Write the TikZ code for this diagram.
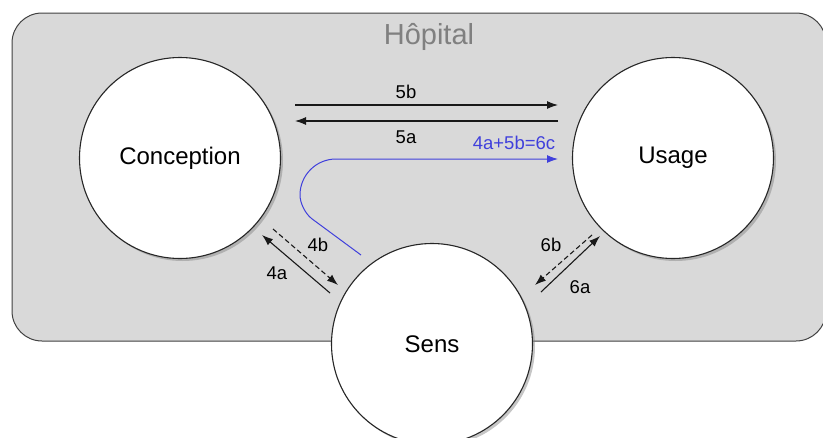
\documentclass[tikz,border=0pt]{standalone}
\usepackage{fontspec}
\setmainfont{Liberation Sans}
\usepackage{xcolor}
\usetikzlibrary{arrows.meta,positioning,calc,shadows}

\definecolor{boxgray}{RGB}{217,217,217}
\definecolor{flowblue}{RGB}{64,64,220}

\begin{document}
\begin{tikzpicture}[x=1pt,y=-1pt,>={Latex[length=11pt,width=8pt]},
   bub/.style={circle,draw=black!85,line width=1.1pt,fill=white,minimum size=201pt,inner sep=0pt,
     font=\fontsize{24}{26}\selectfont,
     drop shadow={shadow xshift=2.5pt,shadow yshift=-2.5pt,opacity=.45}},
   lbl/.style={font=\fontsize{18.5}{20}\selectfont},
   arr/.style={->,line width=1.1pt,black!90},
   dsh/.style={dash pattern=on 5pt off 3pt}]
  \useasboundingbox (0,0) rectangle (823,437);
  % hospital frame
  \draw[fill=boxgray,draw=black!75,line width=1pt,rounded corners=30pt] (12,13) rectangle (826,341);
  \node[font=\fontsize{29}{31}\selectfont,text=black!50] (hop) at (429,37) {Hôpital};
  % the three poles
  \node[bub] (conc) at (180,158) {Conception};
  \node[bub] (usage) at (673,158) {Usage};
  \node[bub] (sens) at (432,344) {Sens};
  % end points of the arrows
  \coordinate (c5b) at (295,105); \coordinate (u5b) at (558,105);
  \coordinate (c5a) at (295,121); \coordinate (u5a) at (558,121);
  \coordinate (s6c) at (361,255); \coordinate (u6c) at (558,159);
  \coordinate (c4a) at (262,235); \coordinate (s4a) at (330,293);
  \coordinate (c4b) at (273,229); \coordinate (s4b) at (338,285);
  \coordinate (s6a) at (541,292); \coordinate (u6a) at (600,236);
  \coordinate (u6b) at (592,235); \coordinate (s6b) at (535,285);
  % conception <-> usage
  \draw[arr] (c5b) -- (u5b);
  \node[lbl] (l5b) at (406,92) {5b};
  \draw[arr] (u5a) -- (c5a);
  \node[lbl] (l5a) at (406,137) {5a};
  % sens -> usage
  \draw[->,flowblue,line width=1pt,rounded corners=15pt] (s6c) -- (300,210)
     [rounded corners=36pt] -- (300,159) -- (u6c);
  \node[lbl,text=flowblue] (l6c) at (514,143) {4a+5b=6c};
  % conception <-> sens
  \draw[arr] (s4a) -- (c4a);
  \draw[arr,dsh] (c4b) -- (s4b);
  \node[lbl] (l4b) at (318,245) {4b};
  \node[lbl] (l4a) at (277,273) {4a};
  % sens <-> usage
  \draw[arr] (s6a) -- (u6a);
  \draw[arr,dsh] (u6b) -- (s6b);
  \node[lbl] (l6b) at (551,245) {6b};
  \node[lbl] (l6a) at (580,287) {6a};
\end{tikzpicture}
\end{document}
